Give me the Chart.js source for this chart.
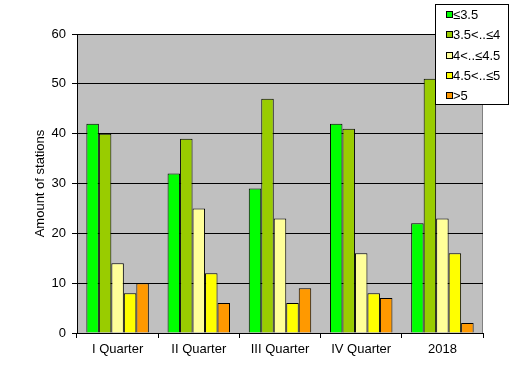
<!DOCTYPE html>
<html>
<head>
<meta charset="utf-8">
<script src="https://cdn.jsdelivr.net/npm/chart.js@4/dist/chart.umd.min.js"></script>
<style>
html,body{margin:0;padding:0;background:#fff;}
#wrap{width:529px;height:378px;position:relative;}
</style>
</head>
<body>
<div id="wrap"><canvas id="c" width="529" height="378"></canvas></div>
<script>
const categories = ["I Quarter", "II Quarter", "III Quarter", "IV Quarter", "2018"];
const seriesNames = ["≤3.5", "3.5<..≤4", "4<..≤4.5", "4.5<..≤5", ">5"];
const s1 = [42, 32, 29, 42, 22];
const s2 = [40, 39, 47, 41, 51];
const s3 = [14, 25, 23, 16, 23];
const s4 = [8, 12, 6, 8, 16];
const s5 = [10, 6, 9, 7, 2];
const colors = ["#00FF00", "#99CC00", "#FFFF99", "#FFFF00", "#FF9900"];
const yTicks = [0, 10, 20, 30, 40, 50, 60];

const FONT = "'Liberation Sans', Arial, sans-serif";

const bgPlugin = {
  id: 'bg',
  beforeDraw(chart) {
    const {ctx, chartArea: a} = chart;
    ctx.save();
    ctx.fillStyle = '#C0C0C0';
    ctx.fillRect(a.left, a.top, a.right - a.left, a.bottom - a.top);
    ctx.strokeStyle = '#808080';
    ctx.lineWidth = 1;
    ctx.beginPath();
    ctx.moveTo(a.left, a.top + 0.5);
    ctx.lineTo(a.right - 0.5, a.top + 0.5);
    ctx.lineTo(a.right - 0.5, a.bottom);
    ctx.stroke();
    ctx.restore();
  }
};

const legendPlugin = {
  id: 'customLegend',
  afterDraw(chart) {
    const ctx = chart.ctx;
    ctx.save();
    const x0 = 435.5, y0 = 4.5, w = 73, h = 100;
    ctx.fillStyle = '#fff';
    ctx.fillRect(x0, y0, w, h);
    ctx.strokeStyle = '#000';
    ctx.lineWidth = 1;
    ctx.strokeRect(x0, y0, w, h);
    ctx.font = "13px " + FONT;
    ctx.textBaseline = 'middle';
    chart.data.datasets.forEach((ds, i) => {
      const cy = 15 + i * 20.3;
      ctx.fillStyle = ds.backgroundColor;
      ctx.fillRect(446.5, Math.round(cy) - 3.5, 6, 6);
      ctx.strokeStyle = '#000';
      ctx.strokeRect(446.5, Math.round(cy) - 3.5, 6, 6);
      ctx.fillStyle = '#000';
      ctx.fillText(ds.label, 453, cy + 0.5);
    });
    ctx.restore();
  }
};

const data = {
  labels: categories,
  datasets: [s1, s2, s3, s4, s5].map((vals, i) => ({
    label: seriesNames[i],
    data: vals,
    backgroundColor: colors[i],
    borderColor: '#000',
    borderWidth: 1,
    borderSkipped: 'bottom',
    categoryPercentage: 5 / 6.5,
    barPercentage: 1.0
  }))
};

new Chart(document.getElementById('c'), {
  type: 'bar',
  data: data,
  options: {
    responsive: false,
    animation: false,
    devicePixelRatio: 1,
    layout: { padding: { left: 0, right: 46, top: 34, bottom: 0 } },
    plugins: { legend: { display: false }, tooltip: { enabled: false } },
    scales: {
      x: {
        offset: true,
        grid: {
          offset: true,
          drawOnChartArea: false,
          drawTicks: true,
          tickLength: 5,
          color: '#000'
        },
        border: { color: '#000', width: 1 },
        ticks: { color: '#000', font: { family: FONT, size: 13 }, padding: 4, maxRotation: 0 },
        afterFit(scale) { scale.height = 45; }
      },
      y: {
        min: 0, max: 60,
        afterBuildTicks(scale) { scale.ticks = yTicks.map(v => ({ value: v })); },
        grid: { color: '#000', tickLength: 5, drawTicks: true },
        border: { color: '#000', width: 1 },
        ticks: { color: '#000', font: { family: FONT, size: 13 }, padding: 6 },
        title: {
          display: true,
          text: 'Amount of stations',
          color: '#000',
          font: { family: FONT, size: 13 },
          padding: { top: 33, bottom: 0 }
        },
        afterFit(scale) { scale.width = 77; }
      }
    }
  },
  plugins: [bgPlugin, legendPlugin]
});
</script>
</body>
</html>
